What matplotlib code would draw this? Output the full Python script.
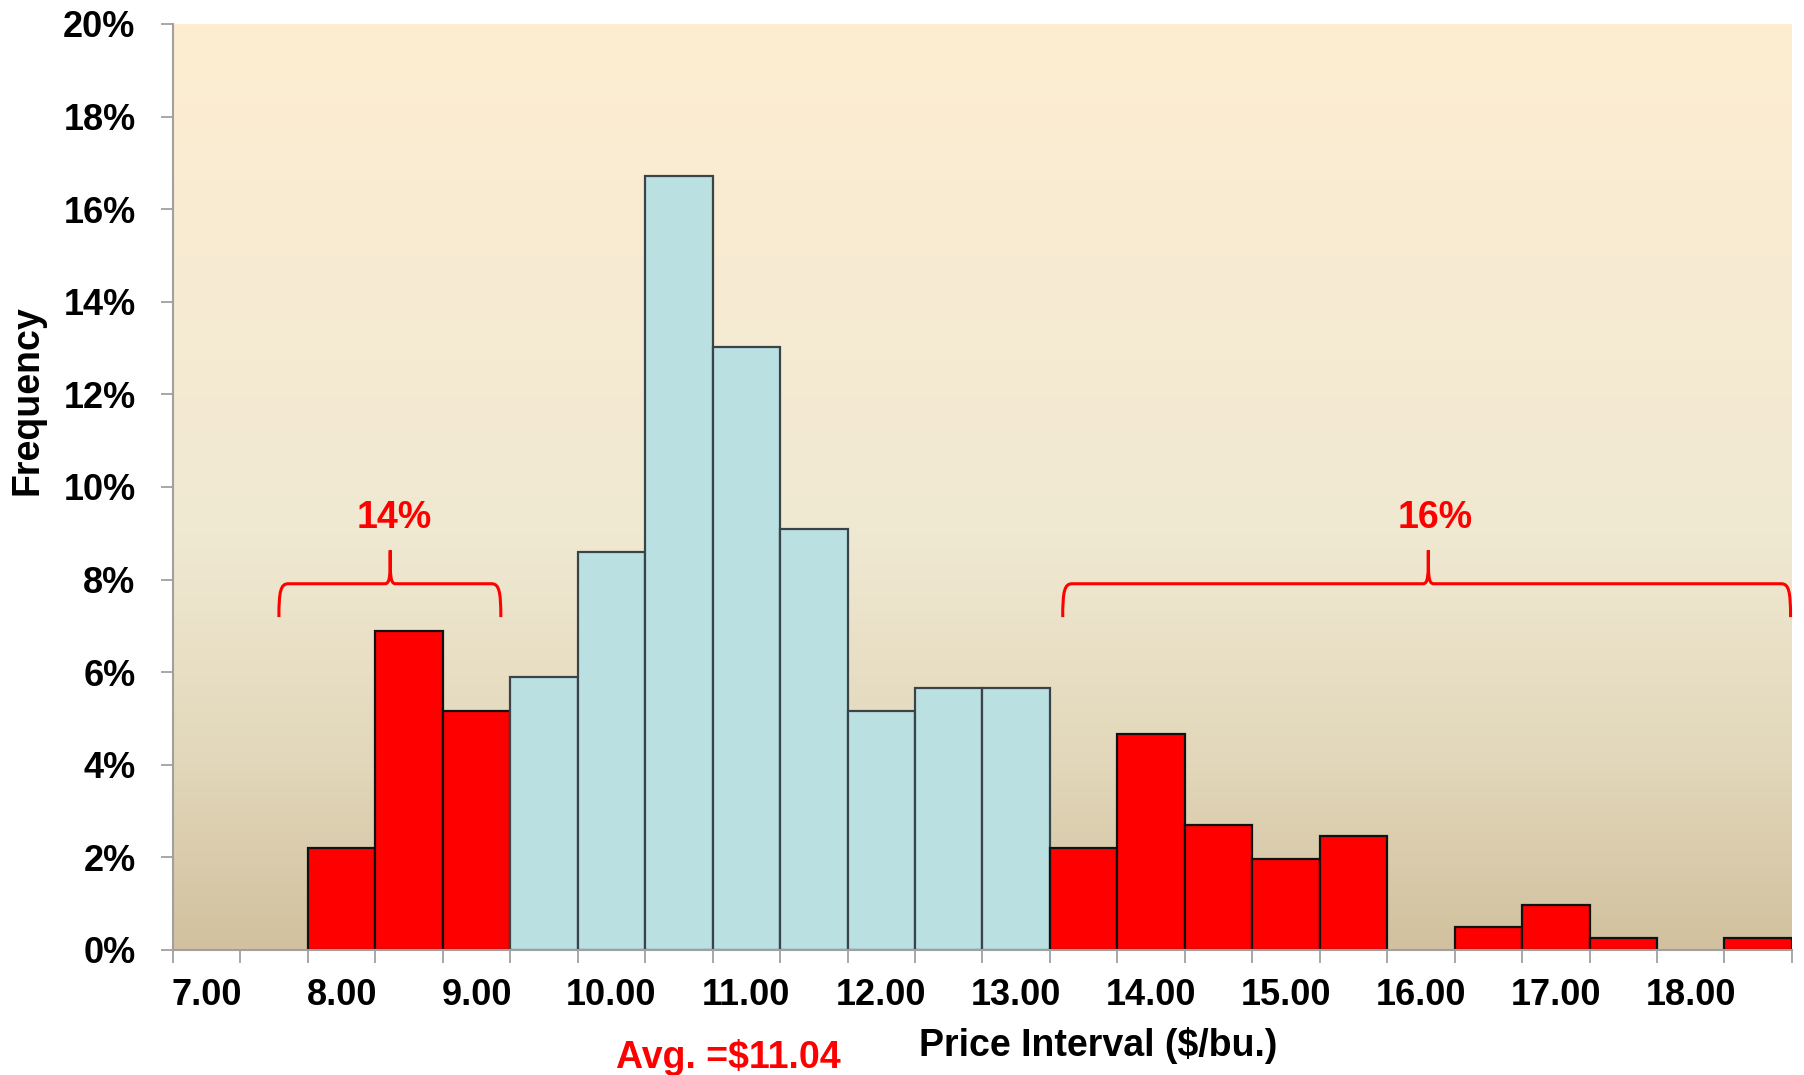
import numpy as np
import matplotlib
matplotlib.use("Agg")
import matplotlib.pyplot as plt
from matplotlib.path import Path
from matplotlib.patches import PathPatch
from matplotlib.colors import LinearSegmentedColormap

# price bins ($/bu.), half-dollar steps
bins = [7.00, 7.50, 8.00, 8.50, 9.00, 9.50, 10.00, 10.50, 11.00, 11.50, 12.00, 12.50,
        13.00, 13.50, 14.00, 14.50, 15.00, 15.50, 16.00, 16.50, 17.00, 17.50, 18.00, 18.50]
# frequency in percent
freq = [0.00, 0.00, 2.21, 6.88, 5.16, 5.90, 8.60, 16.71, 13.02, 9.09, 5.16, 5.65,
        5.65, 2.21, 4.67, 2.70, 1.97, 2.46, 0.00, 0.49, 0.98, 0.25, 0.00, 0.25]
# which bins are in the tails (red)
tail = [1, 1, 1, 1, 1, 0, 0, 0, 0, 0, 0, 0,
        0, 1, 1, 1, 1, 1, 1, 1, 1, 1, 1, 1]
low_share = "14%"
high_share = "16%"
avg_label = "Avg. =$11.04"

plt.rcParams['font.family'] = ['Liberation Sans', 'DejaVu Sans']
plt.rcParams['font.weight'] = 'bold'

fig = plt.figure(figsize=(18.04, 10.75), dpi=100)
ax = fig.add_axes([0.0959, 0.1163, 0.8974, 0.8614])

x = np.arange(len(bins))
ax.set_xlim(-0.5, len(bins) - 0.5)
ax.set_ylim(0, 20)

# background gradient
grad = LinearSegmentedColormap.from_list(
    "bg", [(0.0, "#D1C19E"), (0.2, "#E2D7BA"), (0.45, "#F0E9D2"),
           (0.75, "#F8EBD3"), (1.0, "#FDEED1")])
ax.imshow(np.linspace(0, 1, 256).reshape(-1, 1), cmap=grad, aspect='auto',
          origin='lower', extent=(0, 1, 0, 1), transform=ax.transAxes, zorder=0)

colors = ["#FF0000" if t else "#BAE0E2" for t in tail]
edges = ["#111111" if t else "#3A4448" for t in tail]
for xi, f, c, e in zip(x, freq, colors, edges):
    if f > 0:
        ax.bar(xi, f, width=1.0, color=c, edgecolor=e, linewidth=1.6, zorder=2)

# axes styling
for s in ['top', 'right']:
    ax.spines[s].set_visible(False)
for s in ['left', 'bottom']:
    ax.spines[s].set_color('#A0A0A0')
    ax.spines[s].set_linewidth(1.5)
    ax.spines[s].set_zorder(3)

ax.set_yticks(np.arange(0, 21, 2))
ax.set_yticklabels([f"{v}%" for v in range(0, 21, 2)])
ax.tick_params(axis='y', length=9, width=1.3, color='#A0A0A0', pad=18, labelsize=26)

ax.set_xticks(x[::2])
ax.set_xticklabels([f"{b:.2f}" for b in bins[::2]])
ax.set_xticks(np.arange(-0.5, len(bins), 1.0), minor=True)
ax.tick_params(axis='x', which='major', length=0, pad=20, labelsize=26)
ax.tick_params(axis='x', which='minor', length=9, width=1.3, color='#A0A0A0')

fig.text(0.0155, 0.628, "Frequency", rotation=90, ha='center', va='center',
         fontsize=27, fontweight='bold')
fig.text(0.609, 0.027, "Price Interval ($/bu.)", ha='center', va='center',
         fontsize=27, fontweight='bold')
fig.text(0.4035, 0.016, avg_label, ha='center', va='center',
         fontsize=27, fontweight='bold', color='red')


def brace(ax, x0, x1, xt, y_low, y_mid, y_tip):
    rx, ry = 0.14, 0.5
    tx, ty = 0.08, 0.35
    verts = [(x0, y_low), (x0, y_mid - ry * 0.3), (x0 + rx * 0.2, y_mid), (x0 + rx, y_mid),
             (xt - tx, y_mid), (xt, y_mid), (xt, y_mid + ty * 0.5), (xt, y_tip),
             (xt, y_mid + ty * 0.5), (xt, y_mid), (xt + tx, y_mid),
             (x1 - rx, y_mid), (x1 - rx * 0.2, y_mid), (x1, y_mid - ry * 0.3), (x1, y_low)]
    codes = [Path.MOVETO, Path.CURVE4, Path.CURVE4, Path.CURVE4,
             Path.LINETO, Path.CURVE4, Path.CURVE4, Path.CURVE4,
             Path.CURVE4, Path.CURVE4, Path.CURVE4,
             Path.LINETO, Path.CURVE4, Path.CURVE4, Path.CURVE4]
    ax.add_patch(PathPatch(Path(verts, codes), fill=False, edgecolor='red',
                           linewidth=2.2, zorder=4, clip_on=False))


brace(ax, 1.07, 4.36, 2.72, 7.19, 7.91, 8.63)
brace(ax, 12.69, 23.48, 18.11, 7.19, 7.91, 8.63)
ax.text(2.78, 9.32, low_share, ha='center', va='center', fontsize=27,
        fontweight='bold', color='red', zorder=5)
ax.text(18.21, 9.32, high_share, ha='center', va='center', fontsize=27,
        fontweight='bold', color='red', zorder=5)

fig.savefig("out.png", dpi=100)
